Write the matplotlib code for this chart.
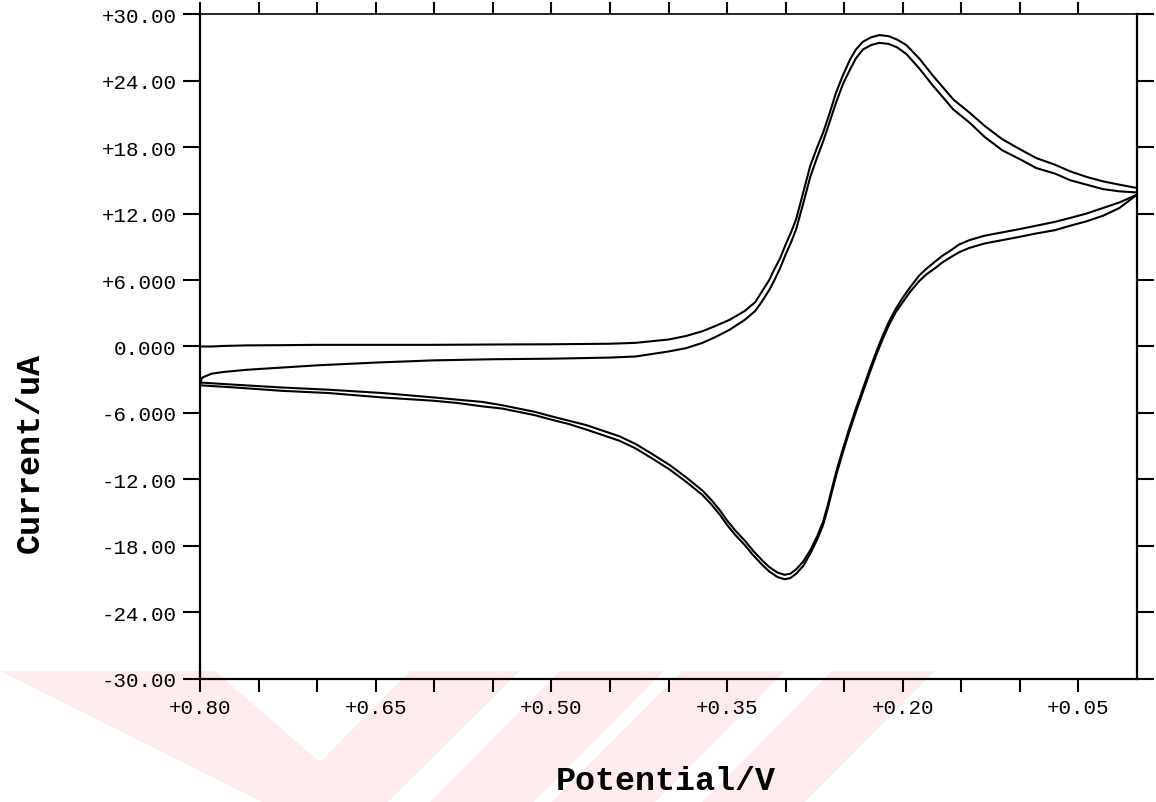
import numpy as np
import matplotlib
matplotlib.use('Agg')
import matplotlib.pyplot as plt
from matplotlib.patches import Polygon

# Cyclic voltammogram, two cycles (potential in V, current in uA)
# forward scan 0.80 -> 0.00 V
fwd_v = [0.80, 0.798, 0.79, 0.78, 0.76, 0.73, 0.70, 0.65, 0.60, 0.55,
         0.50, 0.45, 0.428, 0.40, 0.385, 0.371, 0.36, 0.348, 0.335, 0.326,
         0.32, 0.314, 0.31, 0.305, 0.30, 0.295, 0.291, 0.285, 0.279, 0.273,
         0.268, 0.262, 0.257, 0.251, 0.245, 0.240, 0.234, 0.227, 0.220, 0.212,
         0.205, 0.197, 0.186, 0.174, 0.165, 0.157, 0.143, 0.13, 0.115, 0.10,
         0.086, 0.07, 0.057, 0.043, 0.029, 0.015, 0.0]
fwd1_i = [0.0, 0.0, 0.0, 0.05, 0.1, 0.12, 0.15, 0.15, 0.15, 0.18,
          0.2, 0.25, 0.33, 0.63, 0.95, 1.38, 1.85, 2.4, 3.2, 4.0,
          5.0, 6.0, 6.9, 7.9, 9.2, 10.4, 11.5, 13.9, 16.3, 18.0,
          19.3, 21.2, 22.9, 24.5, 25.9, 26.8, 27.5, 27.9, 28.1, 28.0,
          27.7, 27.2, 26.0, 24.4, 23.3, 22.3, 21.1, 19.9, 18.7, 17.8,
          17.0, 16.4, 15.8, 15.3, 14.9, 14.6, 14.3]
fwd2_i = [-3.25, -2.8, -2.45, -2.3, -2.1, -1.9, -1.7, -1.45, -1.25, -1.15,
          -1.1, -1.0, -0.9, -0.45, -0.15, 0.33, 0.85, 1.5, 2.4, 3.2,
          4.1, 5.1, 5.9, 7.0, 8.3, 9.5, 10.6, 12.9, 15.3, 17.1,
          18.5, 20.4, 22.0, 23.7, 25.0, 26.0, 26.8, 27.2, 27.4, 27.3,
          27.0, 26.4, 25.1, 23.5, 22.4, 21.4, 20.2, 18.9, 17.7, 16.9,
          16.1, 15.6, 15.0, 14.6, 14.2, 14.0, 13.9]

# reverse scan 0.00 -> 0.80 V
rev_v = [0.0, 0.015, 0.029, 0.043, 0.057, 0.07, 0.086, 0.10, 0.115, 0.13,
         0.143, 0.152, 0.160, 0.166, 0.172, 0.180, 0.186, 0.194, 0.200, 0.206,
         0.212, 0.217, 0.222, 0.228, 0.234, 0.240, 0.246, 0.251, 0.256, 0.260,
         0.264, 0.268, 0.273, 0.279, 0.285, 0.291, 0.296, 0.301, 0.307, 0.314,
         0.320, 0.328, 0.335, 0.343, 0.350, 0.356, 0.363, 0.371, 0.385, 0.399,
         0.414, 0.428, 0.442, 0.456, 0.47, 0.485, 0.50, 0.514, 0.528, 0.542,
         0.559, 0.58, 0.60, 0.644, 0.69, 0.73, 0.77, 0.80]
rev1_i = [13.7, 13.0, 12.5, 12.0, 11.6, 11.25, 10.9, 10.6, 10.3, 10.0,
          9.6, 9.2, 8.6, 8.2, 7.7, 7.0, 6.4, 5.3, 4.4, 3.4,
          2.2, 1.0, -0.3, -2.0, -3.8, -5.6, -7.5, -9.2, -11.0, -12.6,
          -14.3, -15.8, -17.1, -18.4, -19.4, -20.1, -20.5, -20.6, -20.4, -19.9,
          -19.3, -18.4, -17.5, -16.6, -15.7, -14.8, -13.9, -13.0, -11.8, -10.7,
          -9.7, -8.8, -8.1, -7.6, -7.1, -6.7, -6.3, -5.9, -5.6, -5.3,
          -5.0, -4.8, -4.6, -4.2, -3.9, -3.7, -3.45, -3.25]
rev2_i = [13.7, 12.5, 11.8, 11.3, 10.9, 10.5, 10.2, 9.9, 9.6, 9.3,
          8.9, 8.5, 8.0, 7.6, 7.1, 6.5, 5.9, 4.9, 4.0, 3.1,
          1.9, 0.7, -0.6, -2.3, -4.1, -5.9, -7.8, -9.5, -11.3, -12.9,
          -14.6, -16.1, -17.4, -18.7, -19.8, -20.5, -20.9, -21.0, -20.8, -20.3,
          -19.7, -18.8, -17.9, -17.0, -16.1, -15.2, -14.3, -13.4, -12.2, -11.1,
          -10.1, -9.2, -8.5, -8.0, -7.5, -7.0, -6.6, -6.2, -5.9, -5.6,
          -5.4, -5.1, -4.9, -4.6, -4.2, -4.0, -3.7, -3.5]

x_major = [0.80, 0.65, 0.50, 0.35, 0.20, 0.05]
x_labels = ['+0.80', '+0.65', '+0.50', '+0.35', '+0.20', '+0.05']
x_minor = [0.75, 0.70, 0.60, 0.55, 0.45, 0.40, 0.30, 0.25, 0.15, 0.10]
y_ticks = [30, 24, 18, 12, 6, 0, -6, -12, -18, -24, -30]
y_labels = ['+30.00', '+24.00', '+18.00', '+12.00', '+6.000', '0.000',
            '-6.000', '-12.00', '-18.00', '-24.00', '-30.00']

mono = 'Liberation Mono'
W, H = 1156, 803

fig = plt.figure(figsize=(W / 100, H / 100), dpi=100)
fig.patch.set_facecolor('white')
ax = fig.add_axes([0.1730, 0.1532, 0.8106, 0.8281])
ax.set_facecolor('none')

# pale watermark stripes along the bottom (pixel corners, y measured downwards)
marks = [
    [(0, 672), (215, 672), (320, 763), (410, 672), (520, 672), (388, 803), (262, 803)],
    [(560, 672), (664, 672), (534, 803), (430, 803)],
    [(682, 672), (785, 672), (655, 803), (552, 803)],
    [(832, 672), (935, 672), (805, 803), (702, 803)],
]
for m in marks:
    pts = [(px / W, 1 - py / H) for px, py in m]
    fig.add_artist(Polygon(pts, closed=True, transform=fig.transFigure,
                           facecolor='#fdebee', edgecolor='none', zorder=-1))

ax.plot(fwd_v + rev_v, fwd1_i + rev1_i, color='black', lw=1.5)
ax.plot(fwd_v + rev_v, fwd2_i + rev2_i, color='black', lw=1.5)

ax.set_xlim(0.80, 0.0)
ax.set_ylim(-30, 30)

ax.set_xticks(x_major)
ax.set_xticklabels(x_labels, fontfamily=mono, fontsize=15)
ax.set_xticks(x_minor, minor=True)
ax.set_yticks(y_ticks)
ax.set_yticklabels(y_labels, fontfamily=mono, fontsize=15)

ax.tick_params(axis='x', which='both', direction='out', length=9, width=1.5,
               top=True, bottom=True, pad=5)
ax.tick_params(axis='y', which='both', direction='out', length=12, width=1.5,
               left=True, right=True, pad=5)
for s in ax.spines.values():
    s.set_linewidth(1.6)
ax.spines['top'].set_linewidth(1.2)

ax.set_xlabel('Potential/V', fontfamily=mono, fontweight='bold', fontsize=24, va='center')
ax.xaxis.set_label_coords(0.497, -0.153)
ax.set_ylabel('Current/uA', fontfamily=mono, fontweight='bold', fontsize=24, va='center')
ax.yaxis.set_label_coords(-0.181, 0.341)

fig.savefig('out.png', dpi=100)
plt.close(fig)
